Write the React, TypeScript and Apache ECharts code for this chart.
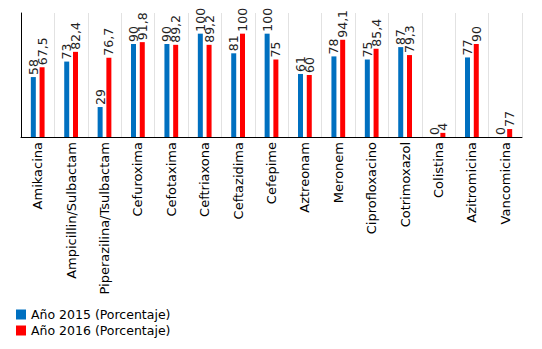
import React, { useEffect, useRef } from "react";
import * as echarts from "echarts";

const categories = [
  "Amikacina",
  "Ampicillin/Sulbactam",
  "Piperazilina/Tsulbactam",
  "Cefuroxima",
  "Cefotaxima",
  "Ceftriaxona",
  "Ceftazidima",
  "Cefepime",
  "Aztreonam",
  "Meronem",
  "Ciprofloxacino",
  "Cotrimoxazol",
  "Colistina",
  "Azitromicina",
  "Vancomicina",
];
const values2015 = [58, 73, 29, 90, 90, 100, 81, 100, 61, 78, 75, 87, 0, 77, 0];
const values2016 = [67.5, 82.4, 76.7, 91.8, 89.2, 89.2, 100, 75, 60, 94.1, 85.4, 79.3, 4, 90, 7.7];
const labels2015 = ["58", "73", "29", "90", "90", "100", "81", "100", "61", "78", "75", "87", "0", "77", "0"];
const labels2016 = ["67,5", "82,4", "76,7", "91,8", "89,2", "89,2", "100", "75", "60", "94,1", "85,4", "79,3", "4", "90", "77"];
const seriesNames = ["Año 2015 (Porcentaje)", "Año 2016 (Porcentaje)"];

const FONT = "DejaVu Sans";

export default function App() {
  const ref = useRef<HTMLDivElement>(null);
  useEffect(() => {
    if (!ref.current) return;
    const chart = echarts.init(ref.current, null, { renderer: "svg" });
    const labelStyle = (texts: string[]) => ({
      show: true,
      position: "top",
      rotate: 90,
      align: "left",
      verticalAlign: "middle",
      distance: 2,
      fontFamily: FONT,
      fontSize: 12.5,
      color: "#222",
      formatter: (p: any) => texts[p.dataIndex],
    });
    chart.setOption({
      animation: false,
      grid: { left: 21, right: 20, top: 13, bottom: 212, containLabel: false },
      legend: {
        orient: "vertical",
        left: 11,
        top: 303,
        itemWidth: 10,
        itemHeight: 10,
        itemGap: 3,
        icon: "rect",
        textStyle: { fontFamily: FONT, fontSize: 12.5, color: "#000" },
        data: seriesNames,
      },
      xAxis: {
        type: "category",
        data: categories,
        axisLine: { show: true, lineStyle: { color: "#000", width: 1 } },
        axisTick: { show: false },
        splitLine: { show: true, interval: 0, lineStyle: { color: "#e2e2e2", width: 1 } },
        axisLabel: {
          interval: 0,
          rotate: 90,
          margin: 5,
          fontFamily: FONT,
          fontSize: 13,
          color: "#000",
        },
      },
      yAxis: {
        type: "value",
        min: 0,
        max: 120,
        axisLine: { show: true, lineStyle: { color: "#000", width: 1 } },
        axisTick: { show: false },
        axisLabel: { show: false },
        splitLine: { show: false },
      },
      series: [
        {
          name: seriesNames[0],
          type: "bar",
          data: values2015,
          barWidth: 5,
          barGap: "75%",
          itemStyle: { color: "#0070C0" },
          label: labelStyle(labels2015),
        },
        {
          name: seriesNames[1],
          type: "bar",
          data: values2016,
          barWidth: 5,
          itemStyle: { color: "#FF0000" },
          label: labelStyle(labels2016),
        },
      ],
    });
    return () => chart.dispose();
  }, []);
  return (
    <div
      ref={ref}
      style={{ position: "absolute", left: 0, top: 0, width: 542, height: 349 }}
    />
  );
}
